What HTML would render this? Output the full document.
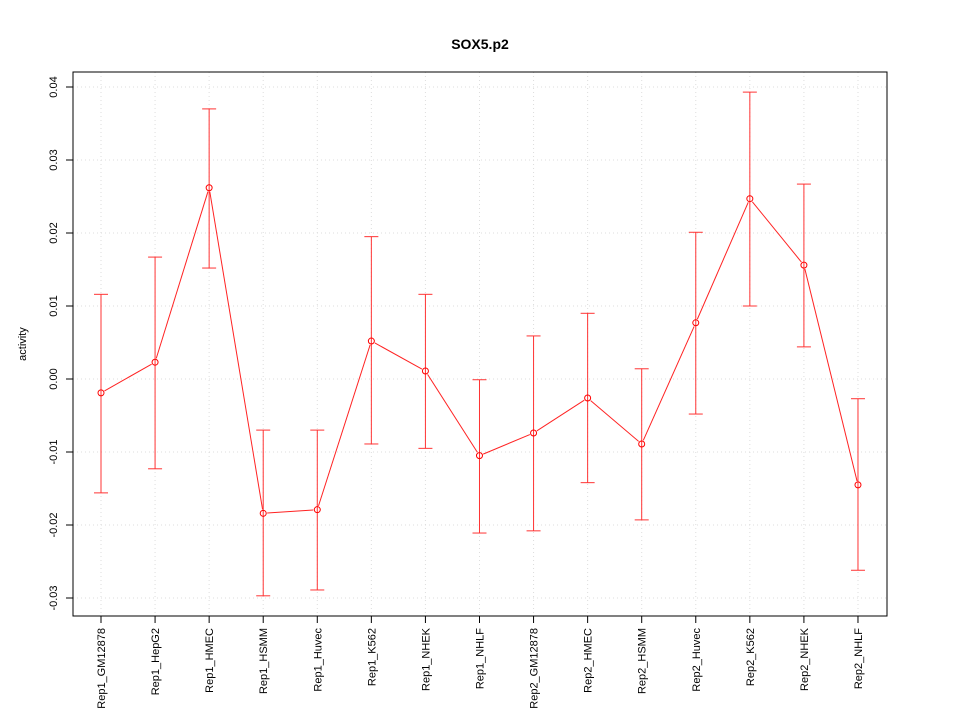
<!DOCTYPE html>
<html><head><meta charset="utf-8"><style>
html,body{margin:0;padding:0;background:#fff;}
svg{display:block;font-family:"Liberation Sans",sans-serif;}
</style></head><body>
<svg id="chart" width="960" height="720"></svg>
<script>
const categories=["Rep1_GM12878","Rep1_HepG2","Rep1_HMEC","Rep1_HSMM","Rep1_Huvec","Rep1_K562","Rep1_NHEK","Rep1_NHLF","Rep2_GM12878","Rep2_HMEC","Rep2_HSMM","Rep2_Huvec","Rep2_K562","Rep2_NHEK","Rep2_NHLF"];
const values=[-0.0019,0.0023,0.0262,-0.0184,-0.0179,0.0052,0.0011,-0.0105,-0.0074,-0.0026,-0.0089,0.0077,0.0247,0.0156,-0.0145];
const upper=[0.0116,0.0167,0.0370,-0.0070,-0.0070,0.0195,0.0116,-0.0001,0.0059,0.0090,0.0014,0.0201,0.0393,0.0267,-0.0027];
const lower=[-0.0156,-0.0123,0.0152,-0.0297,-0.0289,-0.0089,-0.0095,-0.0211,-0.0208,-0.0142,-0.0193,-0.0048,0.0100,0.0044,-0.0262];
const yTicks=[-0.03,-0.02,-0.01,0.00,0.01,0.02,0.03,0.04];
const yTickLabels=["-0.03","-0.02","-0.01","0.00","0.01","0.02","0.03","0.04"];

const NS="http://www.w3.org/2000/svg";
const svg=document.getElementById('chart');
const L=73,R=887,T=72,B=616;
function y(v){return 379-v*7300;}
function x(i){return 101+i*54.07;}
function mk(tag,attrs,parent){const e=document.createElementNS(NS,tag);for(const k in attrs)e.setAttribute(k,attrs[k]);(parent||svg).appendChild(e);return e;}

yTicks.forEach((v,i)=>{
  const g=mk('line',{x1:L,x2:R,y1:y(v),y2:y(v),stroke:'#dddddd','stroke-dasharray':'1,3'});
  
  
});
categories.forEach((c,i)=>{
  const g=mk('line',{x1:x(i),x2:x(i),y1:T,y2:B,stroke:'#dddddd','stroke-dasharray':'1,3'});
  
  
});
const fr=mk('rect',{x:L,y:T,width:R-L,height:B-T,fill:'none',stroke:'#000'});


yTicks.forEach((v,i)=>{
  const t=mk('line',{x1:L-7,x2:L,y1:y(v),y2:y(v),stroke:'#000'});
  
  
  const tx=mk('text',{x:0,y:0,'font-size':11,'text-anchor':'middle',transform:`translate(${L-16},${y(v)}) rotate(-90)`});
  tx.textContent=yTickLabels[i];
  
  
});
categories.forEach((c,i)=>{
  const t=mk('line',{x1:x(i),x2:x(i),y1:B,y2:B+7,stroke:'#000'});
  
  
  const tx=mk('text',{x:0,y:0,'font-size':11,'text-anchor':'end',transform:`translate(${x(i)+4},${B+12}) rotate(-90)`});
  tx.textContent=c;
  
  
});
categories.forEach((c,i)=>{
  const g=mk('g',{stroke:'#ff3333'});
  
  
  mk('line',{x1:x(i),x2:x(i),y1:y(upper[i]),y2:y(lower[i])},g);
  mk('line',{x1:x(i)-7,x2:x(i)+7,y1:y(upper[i]),y2:y(upper[i])},g);
  mk('line',{x1:x(i)-7,x2:x(i)+7,y1:y(lower[i]),y2:y(lower[i])},g);
});
for(let i=0;i<values.length-1;i++){
  const x1=x(i),y1=y(values[i]),x2=x(i+1),y2=y(values[i+1]);
  const d=Math.hypot(x2-x1,y2-y1),ux=(x2-x1)/d,uy=(y2-y1)/d;
  const s=mk('line',{x1:x1+ux*4,y1:y1+uy*4,x2:x2-ux*4,y2:y2-uy*4,stroke:'#ff2222'});
  
  
}
values.forEach((v,i)=>{
  const p=mk('circle',{cx:x(i),cy:y(v),r:3,fill:'none',stroke:'#ff0000'});
  
  
});
const title=mk('text',{x:480,y:49,'font-size':14,'font-weight':'bold','text-anchor':'middle'});
title.textContent='SOX5.p2';


const yl=mk('text',{x:0,y:0,'font-size':11,'text-anchor':'middle',transform:'translate(26,344) rotate(-90)'});
yl.textContent='activity';


</script>
</body></html>
